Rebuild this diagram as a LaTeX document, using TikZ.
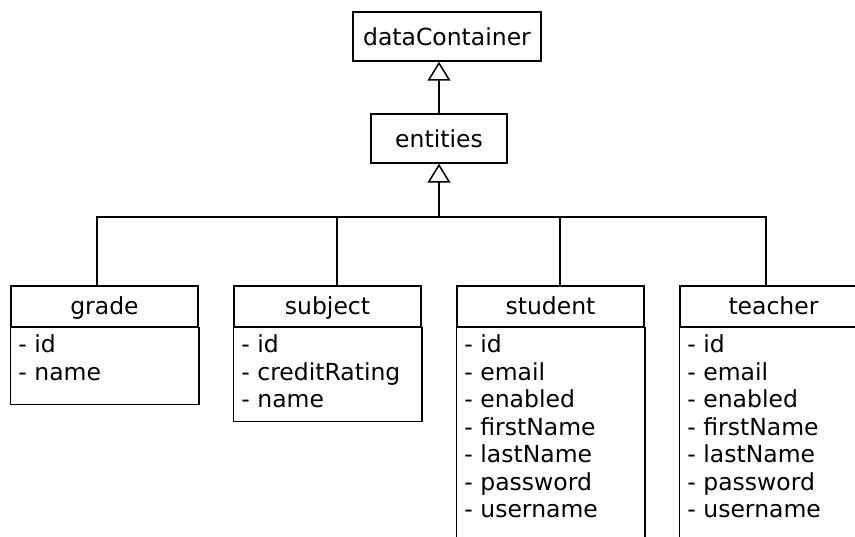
\documentclass[tikz,border=0pt]{standalone}
\usepackage{fontspec}
\setmainfont{DejaVu Sans}
\usetikzlibrary{positioning,arrows.meta}

\tikzset{
    box/.style={draw, line width=1.5pt, inner sep=0pt, minimum height=49pt,
        font=\fontsize{23.5}{27.5}\selectfont},
    classhead/.style={box, minimum width=187pt, minimum height=41pt,
        text height=18pt, text depth=2pt},
    attrs/.style={anchor=north west, align=left, inner sep=0pt,
        font=\fontsize{23.5}{27.5}\selectfont},
    link/.style={line width=1.5pt},
    inherit/.style={link, -{Triangle[open, length=19pt, width=23pt, line width=1.5pt]}},
}

\begin{document}
\begin{tikzpicture}[x=1pt,y=-1pt]
        \clip (0,0) rectangle (855,537);

        % top of the hierarchy
        \node[box, minimum width=188pt] (dc) at (447,36.5) {dataContainer};
        \node[box, minimum width=136pt] (ent) at (439,138.5) {entities};
        \draw[inherit] (ent.north) -- (ent.north |- dc.south);

        % entity classes
        \node[classhead] (grade) at (104.5,306.5) {grade};
        \node[classhead] (subject) at (327.5,306.5) {subject};
        \node[classhead] (student) at (550.5,306.5) {student};
        \node[classhead] (teacher) at (773.5,306.5) {teacher};

        \draw[link] (grade.south west) rectangle ([yshift=-77pt]grade.south east);
        \draw[link] (subject.south west) rectangle ([yshift=-94pt]subject.south east);
        \draw[link] (student.south west) rectangle ([yshift=-240pt]student.south east);
        \draw[link] (teacher.south west) rectangle ([yshift=-240pt]teacher.south east);

        \node[attrs] (grade attrs) at ([xshift=8pt,yshift=-7pt]grade.south west)
            {- id\\- name};
        \node[attrs] (subject attrs) at ([xshift=8pt,yshift=-7pt]subject.south west)
            {- id\\- creditRating\\- name};
        \node[attrs] (student attrs) at ([xshift=8pt,yshift=-7pt]student.south west)
            {- id\\- email\\- enabled\\- firstName\\- lastName\\- password\\- username};
        \node[attrs] (teacher attrs) at ([xshift=8pt,yshift=-7pt]teacher.south west)
            {- id\\- email\\- enabled\\- firstName\\- lastName\\- password\\- username};

        % generalisation bus
        \coordinate (bus) at (ent.south |- 0,217);
        \draw[inherit] (bus) -- (ent.south);
        \draw[link] ([xshift=-7.5pt]grade.north) |- ([xshift=-7.5pt]teacher.north |- bus) -- ([xshift=-7.5pt]teacher.north);
        \draw[link] ([xshift=9.5pt]subject.north) -- ([xshift=9.5pt]subject.north |- bus);
        \draw[link] ([xshift=9.5pt]student.north) -- ([xshift=9.5pt]student.north |- bus);
    \end{tikzpicture}
\end{document}
